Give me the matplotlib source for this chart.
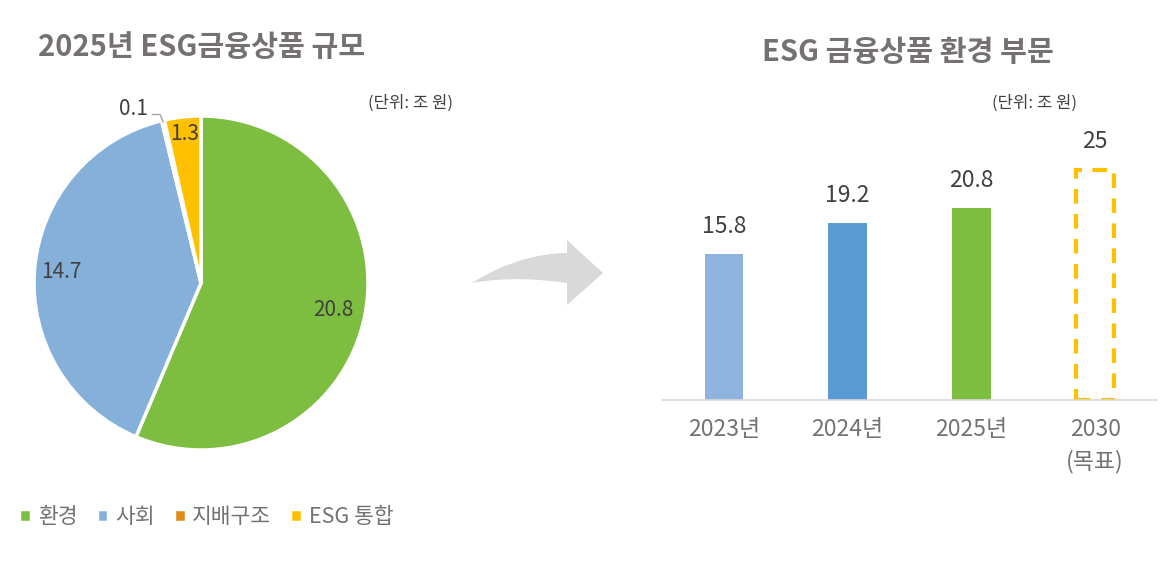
import numpy as np
import matplotlib
matplotlib.use("Agg")
import matplotlib.pyplot as plt
from matplotlib.path import Path
from matplotlib.patches import PathPatch

plt.rcParams['font.family'] = ['Noto Sans CJK KR', 'DejaVu Sans']

# pie data
pie_labels = ["환경", "사회", "지배구조", "ESG 통합"]
pie_values = [20.8, 14.7, 0.1, 1.3]
pie_colors = ["#7DBE41", "#85B0DA", "#DE8C16", "#FFC000"]

# bar data
bar_labels = ["2023년", "2024년", "2025년", "2030\n(목표)"]
bar_values = [15.8, 19.2, 20.8, 25]
bar_colors = ["#8DB3DE", "#5B9BD5", "#7DBE41", "none"]

GRAY = "#767171"
DARK = "#404040"

W, H = 1165, 570
fig = plt.figure(figsize=(W / 100, H / 100), dpi=100)

# ---- pie ----
cx, cy, r = 201, 283, 167
ax1 = fig.add_axes([(cx - r) / W, (H - cy - r) / H, 2 * r / W, 2 * r / H])
wedges, _ = ax1.pie(pie_values, colors=pie_colors, startangle=90, counterclock=False,
                    wedgeprops=dict(edgecolor="white", linewidth=2.5))
ax1.set_xlim(-1, 1)
ax1.set_ylim(-1, 1)
ax1.set_aspect("equal")
ax1.axis("off")
for a in ax1.patches:
    a.set_clip_on(False)

label_r = [0.81, 0.84, None, 0.9]
for w, v, lr in zip(wedges, pie_values, label_r):
    ang = np.deg2rad((w.theta1 + w.theta2) / 2)
    if lr is None:
        # tiny slice: label outside with a leader line
        ex, ey = np.cos(ang) * 0.99, np.sin(ang) * 0.99
        ax1.plot([ex, ex - 0.02, ex - 0.066], [ey, ey + 0.045, ey + 0.045],
                 color="#A6A6A6", lw=1, clip_on=False)
        ax1.text(ex - 0.092, ey + 0.078, f"{v}", ha="right", va="center",
                 fontsize=15, color=DARK)
    else:
        ax1.text(np.cos(ang) * lr, np.sin(ang) * lr, f"{v}", ha="center", va="center",
                 fontsize=15, color=DARK)

fig.text(202 / W, 1 - 47 / H, "2025년 ESG금융상품 규모", ha="center", va="center",
         fontsize=21, fontweight="bold", color=GRAY)
fig.text(410 / W, 1 - 103 / H, "(단위: 조 원)", ha="center", va="center",
         fontsize=12, color=DARK)

fig.legend(wedges, pie_labels, loc="center left", bbox_to_anchor=(0, 1 - 517 / H),
           ncol=4, frameon=False, fontsize=15.5, labelcolor=GRAY,
           handlelength=0.55, handleheight=0.55, handletextpad=0.3, columnspacing=0.9)

# ---- arrow ----
px = lambda x, y: (x / W, 1 - y / H)
verts = [px(472, 283),
         px(505, 262), px(540, 253), px(567, 253),
         px(567, 240), px(603, 273), px(567, 305), px(567, 283),
         px(540, 279), px(505, 277), px(472, 283)]
codes = [Path.MOVETO, Path.CURVE4, Path.CURVE4, Path.CURVE4,
         Path.LINETO, Path.LINETO, Path.LINETO, Path.LINETO,
         Path.CURVE4, Path.CURVE4, Path.CURVE4]
fig.patches.append(PathPatch(Path(verts, codes), transform=fig.transFigure,
                             facecolor="#D9D9D9", edgecolor="none"))

# ---- bars ----
ax2 = fig.add_axes([662 / W, (H - 400) / H, 495 / W, 300 / H])
x = np.arange(len(bar_values))
bars = ax2.bar(x, bar_values, width=0.31, color=bar_colors)
last = bars[-1]
last.set_edgecolor("#FFC000")
last.set_linewidth(3)
last.set_linestyle((0, (3.5, 2.5)))
ax2.set_xlim(-0.5, 3.5)
ax2.set_ylim(0, 32.54)
for b, v in zip(bars, bar_values):
    ax2.annotate(f"{v}", (b.get_x() + b.get_width() / 2, v), xytext=(0, 20),
                 textcoords="offset points", ha="center", va="center",
                 fontsize=16.5, color=DARK)
for s in ["top", "right", "left"]:
    ax2.spines[s].set_visible(False)
ax2.spines["bottom"].set_color("#D9D9D9")
ax2.spines["bottom"].set_linewidth(1.2)
ax2.set_yticks([])
ax2.set_xticks(x)
ax2.set_xticklabels(bar_labels, fontsize=16.5, color=GRAY, linespacing=1.45, va="top")
ax2.tick_params(axis="x", length=0, pad=13)

fig.text(908 / W, 1 - 52 / H, "ESG 금융상품 환경 부문", ha="center", va="center",
         fontsize=21, fontweight="bold", color=GRAY)
fig.text(1035 / W, 1 - 103 / H, "(단위: 조 원)", ha="center", va="center",
         fontsize=12, color=DARK)

fig.savefig("out.png", dpi=100, facecolor="white")
